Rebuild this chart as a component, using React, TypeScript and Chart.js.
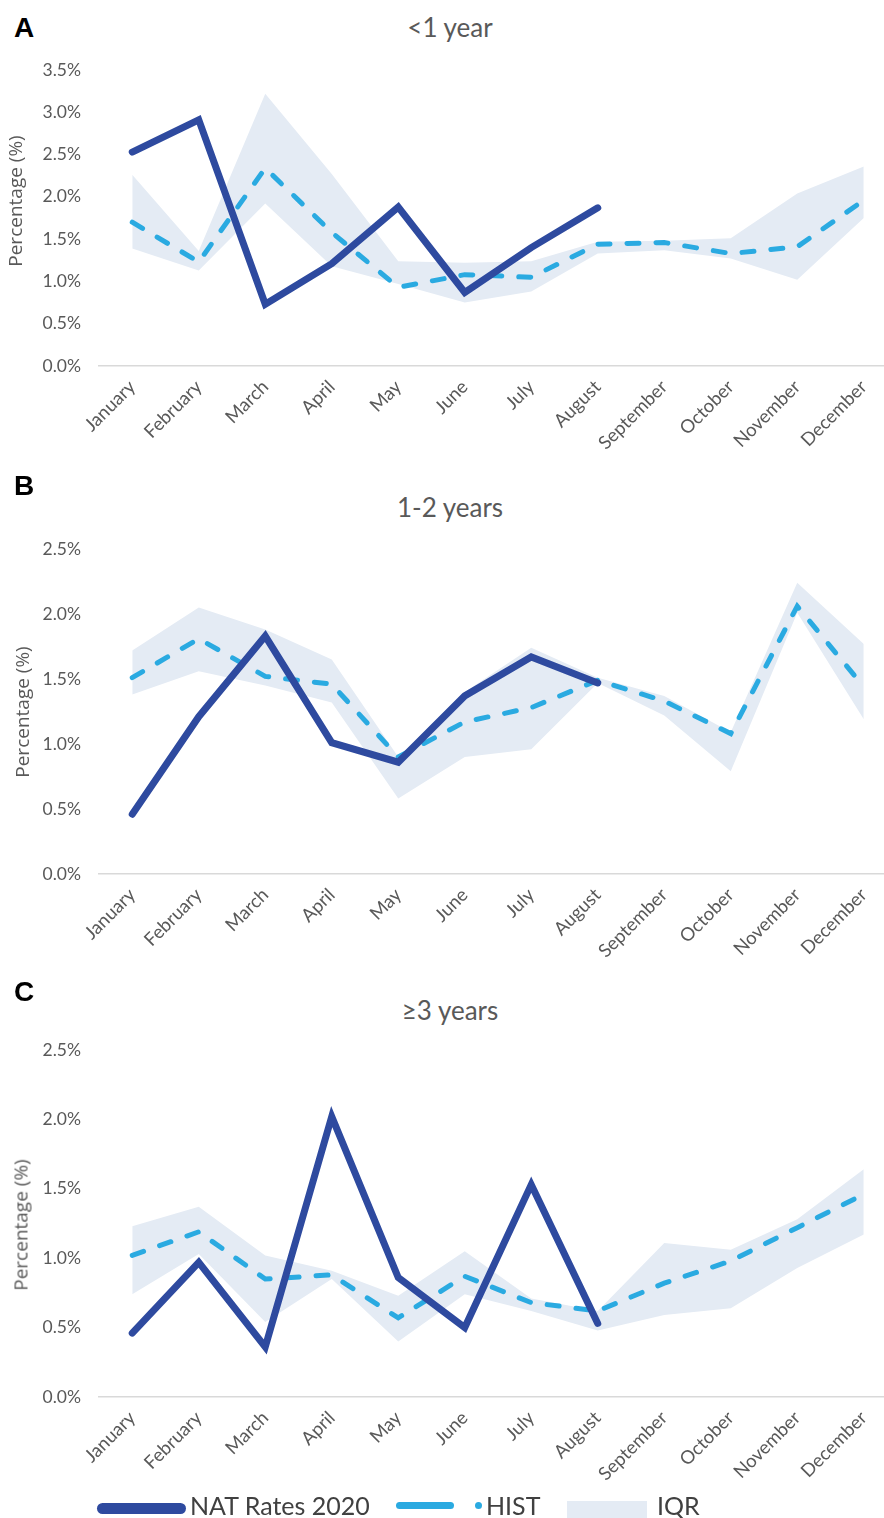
import React, { useEffect, useRef } from "react";
import { Chart, registerables } from "chart.js";

Chart.register(...registerables);

// ---------- data ----------
const MONTHS = [
  "January", "February", "March", "April", "May", "June",
  "July", "August", "September", "October", "November", "December",
];

// Panel A: <1 year
const NAT_A = [2.53, 2.91, 0.73, 1.21, 1.88, 0.87, 1.40, 1.87];
const HIST_A = [1.70, 1.23, 2.34, 1.58, 0.93, 1.08, 1.05, 1.44, 1.46, 1.33, 1.41, 1.96];
const IQR_LOW_A = [1.39, 1.13, 1.92, 1.18, 0.97, 0.75, 0.88, 1.33, 1.37, 1.27, 1.02, 1.75];
const IQR_HIGH_A = [2.26, 1.36, 3.22, 2.27, 1.24, 1.22, 1.24, 1.47, 1.48, 1.51, 2.04, 2.36];

// Panel B: 1-2 years
const NAT_B = [0.46, 1.21, 1.83, 1.01, 0.86, 1.37, 1.67, 1.47];
const HIST_B = [1.51, 1.81, 1.52, 1.46, 0.90, 1.17, 1.28, 1.49, 1.33, 1.08, 2.06, 1.44];
const IQR_LOW_B = [1.38, 1.56, 1.45, 1.32, 0.58, 0.90, 0.96, 1.47, 1.22, 0.79, 2.01, 1.19];
const IQR_HIGH_B = [1.72, 2.05, 1.88, 1.65, 0.90, 1.40, 1.74, 1.51, 1.37, 1.09, 2.24, 1.77];

// Panel C: >=3 years
const NAT_C = [0.46, 0.97, 0.36, 2.02, 0.86, 0.50, 1.53, 0.53];
const HIST_C = [1.02, 1.19, 0.85, 0.88, 0.57, 0.87, 0.68, 0.62, 0.82, 0.98, 1.22, 1.46];
const IQR_LOW_C = [0.74, 1.03, 0.54, 0.85, 0.40, 0.74, 0.62, 0.48, 0.59, 0.64, 0.93, 1.17];
const IQR_HIGH_C = [1.23, 1.37, 1.02, 0.91, 0.73, 1.05, 0.71, 0.62, 1.11, 1.06, 1.28, 1.64];

const TITLES = ["<1 year", "1-2 years", "≥3 years"];
const LETTERS = ["A", "B", "C"];
const Y_MAX = [3.5, 2.5, 2.5];
const Y_TITLE = "Percentage (%)";
const LEGEND_LABELS = ["NAT Rates 2020", "HIST", "IQR"];

// ---------- style ----------
const NAT_COLOR = "#2E4A9F";
const HIST_COLOR = "#2AAAE1";
const IQR_COLOR = "#E4EBF4";
const TEXT_COLOR = "#595959";
const CANVAS_W = 897;
const PAD_TOP = 14;
const X_AXIS_H = 100;

type PanelProps = {
  plotTop: number;
  plotBottom: number;
  max: number;
  nat: number[];
  hist: number[];
  lo: number[];
  hi: number[];
};

function Panel({ plotTop, plotBottom, max, nat, hist, lo, hi }: PanelProps) {
  const ref = useRef<HTMLCanvasElement | null>(null);
  const h = PAD_TOP + (plotBottom - plotTop) + X_AXIS_H;
  useEffect(() => {
    if (!ref.current) return;
    const chart = new Chart(ref.current, {
      type: "line",
      data: {
        labels: MONTHS,
        datasets: [
          {
            label: "NAT Rates 2020",
            data: nat,
            borderColor: NAT_COLOR,
            backgroundColor: NAT_COLOR,
            borderWidth: 7,
            pointRadius: 0,
            borderCapStyle: "round",
            fill: false,
            order: 0,
          },
          {
            label: "HIST",
            data: hist,
            borderColor: HIST_COLOR,
            backgroundColor: HIST_COLOR,
            borderWidth: 5,
            borderDash: [12, 17],
            borderCapStyle: "round",
            pointRadius: 0,
            fill: false,
            order: 1,
          },
          {
            label: "IQR low",
            data: lo,
            borderWidth: 0,
            borderColor: "rgba(0,0,0,0)",
            pointRadius: 0,
            fill: false,
            order: 3,
          },
          {
            label: "IQR",
            data: hi,
            borderWidth: 0,
            borderColor: "rgba(0,0,0,0)",
            backgroundColor: IQR_COLOR,
            pointRadius: 0,
            fill: "-1",
            order: 2,
          },
        ],
      },
      options: {
        responsive: false,
        animation: false,
        devicePixelRatio: 1,
        layout: { padding: { top: PAD_TOP, left: 0, right: 0, bottom: 0 } },
        plugins: {
          legend: { display: false },
          title: { display: false },
          tooltip: { enabled: false },
        },
        scales: {
          x: {
            offset: true,
            grid: { display: false, drawTicks: false, offset: true },
            border: { display: true, color: "#D9D9D9", width: 1.5 },
            ticks: {
              font: { family: "Lato", size: 18.5 },
              color: TEXT_COLOR,
              minRotation: 45,
              maxRotation: 45,
              autoSkip: false,
              padding: 10,
            },
            afterFit: (s: any) => {
              s.height = X_AXIS_H;
              s.paddingLeft = 0;
              s.paddingRight = 0;
            },
          },
          y: {
            min: 0,
            max,
            grid: { display: false, drawTicks: false },
            border: { display: false },
            ticks: {
              stepSize: 0.5,
              font: { family: "Lato", size: 17.5 },
              color: TEXT_COLOR,
              padding: 18,
              callback: (v: any) => Number(v).toFixed(1) + "%",
            },
            afterFit: (s: any) => {
              s.width = 99;
              s.paddingTop = 0;
              s.paddingBottom = 0;
            },
          },
        },
      },
    });
    return () => chart.destroy();
  }, []);
  return (
    <canvas
      ref={ref}
      width={CANVAS_W}
      height={h}
      style={{ position: "absolute", left: 0, top: plotTop - PAD_TOP, width: CANVAS_W, height: h }}
    />
  );
}

const ASC: Record<string, number> = { Lato: 0.887, "Open Sans": 0.888, "Liberation Sans": 0.846 };

function Txt(props: {
  x: number; base: number; size: number; family: string; weight?: number;
  color: string; center?: boolean; children: React.ReactNode;
}) {
  const { x, base, size, family, weight, color, center, children } = props;
  return (
    <div
      style={{
        position: "absolute",
        left: x,
        top: base - size * ASC[family],
        fontFamily: `"${family}"`,
        fontSize: size,
        fontWeight: weight || 400,
        lineHeight: `${size}px`,
        color,
        whiteSpace: "nowrap",
        transform: center ? "translateX(-50%)" : undefined,
      }}
    >
      {children}
    </div>
  );
}

function YTitle({ cx, cy }: { cx: number; cy: number }) {
  return (
    <div
      style={{
        position: "absolute",
        left: cx,
        top: cy,
        fontFamily: '"Open Sans"',
        fontSize: 19,
        lineHeight: "19px",
        color: TEXT_COLOR,
        whiteSpace: "nowrap",
        transform: "translate(-50%, -50%) rotate(-90deg)",
      }}
    >
      {Y_TITLE}
    </div>
  );
}

export default function App() {
  const panels = [
    { plotTop: 70, plotBottom: 366, nat: NAT_A, hist: HIST_A, lo: IQR_LOW_A, hi: IQR_HIGH_A, titleBase: 37, letterBase: 38, yt: [15, 201] },
    { plotTop: 549, plotBottom: 874, nat: NAT_B, hist: HIST_B, lo: IQR_LOW_B, hi: IQR_HIGH_B, titleBase: 517, letterBase: 496, yt: [21.5, 712] },
    { plotTop: 1050, plotBottom: 1397, nat: NAT_C, hist: HIST_C, lo: IQR_LOW_C, hi: IQR_HIGH_C, titleBase: 1020, letterBase: 1002, yt: [21, 1225] },
  ];
  return (
    <div
      style={{
        position: "absolute",
        left: 0,
        top: 0,
        width: 884,
        height: 1518,
        overflow: "hidden",
        background: "#ffffff",
      }}
    >
      {panels.map((p, i) => (
        <React.Fragment key={i}>
          <Panel plotTop={p.plotTop} plotBottom={p.plotBottom} max={Y_MAX[i]} nat={p.nat} hist={p.hist} lo={p.lo} hi={p.hi} />
          <Txt x={14} base={p.letterBase} size={28} family="Liberation Sans" weight={700} color="#000000">
            {LETTERS[i]}
          </Txt>
          <Txt x={450} base={p.titleBase} size={26} family="Lato" color={TEXT_COLOR} center>
            {TITLES[i]}
          </Txt>
          <YTitle cx={p.yt[0]} cy={p.yt[1]} />
        </React.Fragment>
      ))}
      {/* legend */}
      <div style={{ position: "absolute", left: 97, top: 1503, width: 89, height: 11, borderRadius: 6, background: NAT_COLOR }} />
      <Txt x={190} base={1515} size={25} family="Lato" color="#404040">{LEGEND_LABELS[0]}</Txt>
      <div style={{ position: "absolute", left: 396, top: 1502, width: 58, height: 7, borderRadius: 4, background: HIST_COLOR }} />
      <div style={{ position: "absolute", left: 475, top: 1502, width: 7, height: 7, borderRadius: 4, background: HIST_COLOR }} />
      <Txt x={486} base={1515} size={25} family="Lato" color="#404040">{LEGEND_LABELS[1]}</Txt>
      <div style={{ position: "absolute", left: 567, top: 1501, width: 80, height: 17, background: IQR_COLOR }} />
      <Txt x={657} base={1515} size={25} family="Lato" color="#404040">{LEGEND_LABELS[2]}</Txt>
    </div>
  );
}
